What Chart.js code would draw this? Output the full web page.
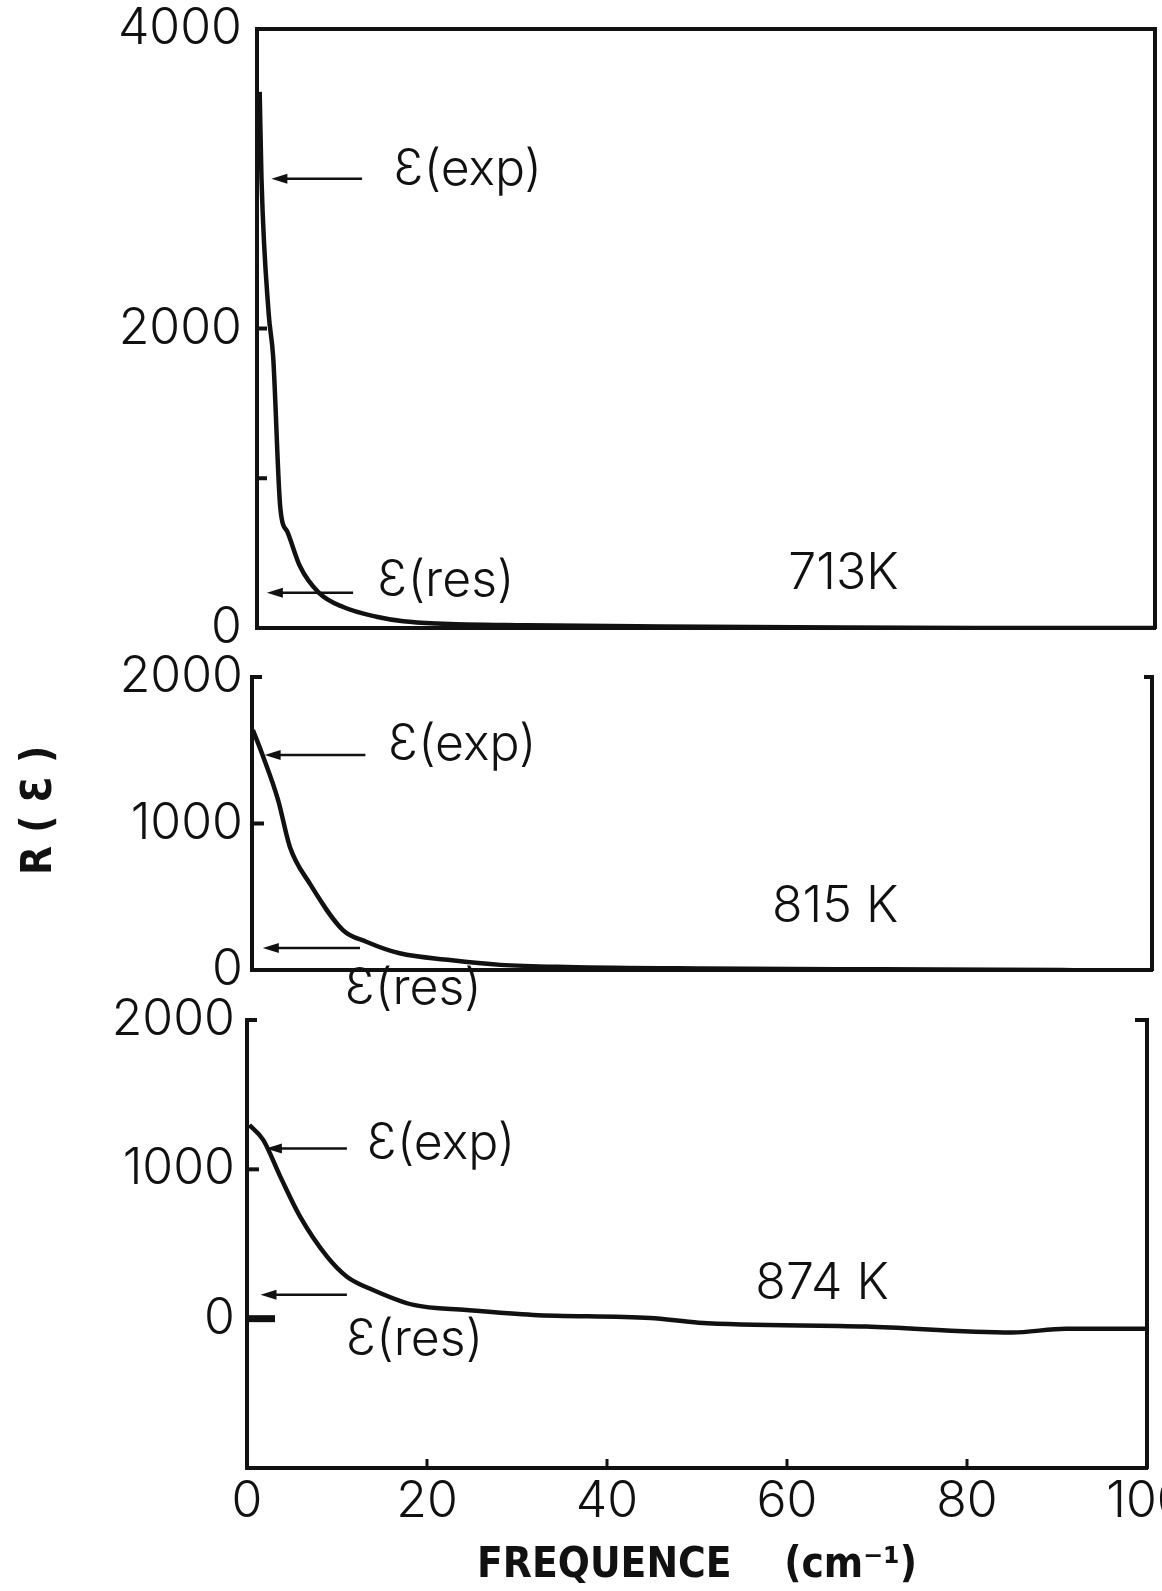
<!DOCTYPE html>
<html>
<head>
<meta charset="utf-8">
<title>R(eps) vs frequence</title>
<script src="https://cdn.jsdelivr.net/npm/chart.js@4.4.1/dist/chart.umd.min.js"></script>
<style>
  html, body { margin: 0; padding: 0; background: #fff; }
  #page { position: relative; width: 1162px; height: 1591px; overflow: hidden; }
  #page canvas { position: absolute; left: 0; top: 0; }
</style>
</head>
<body>
<div id="page">
  <canvas id="c713" width="1162" height="1591"></canvas>
  <canvas id="c815" width="1162" height="1591"></canvas>
  <canvas id="c874" width="1162" height="1591"></canvas>
</div>
<script>
// values: frequence (cm-1) and R(eps)
const freq713 = [0.3, 0.5, 1.3, 1.8, 2.6, 3.4, 4.8, 6.9, 9.6, 13.3, 16.3, 20, 30, 45, 60, 80, 100];
const eps713  = [3580, 3000, 2100, 1810, 800, 640, 410, 235, 140, 75, 45, 30, 18, 10, 5, 0, 0];

const freq815 = [0.1, 1.1, 2.9, 4.2, 6.4, 10.1, 12.7, 16.4, 22, 27.6, 35, 50, 70, 90, 100];
const eps815  = [1638, 1479, 1160, 842, 592, 273, 193, 114, 68, 35, 20, 10, 5, 0, -15];

const freq874 = [0.26, 1.8, 3.7, 5.9, 8.9, 11.1, 14.0, 18.5, 24.4, 31.8, 44.8, 50.2, 68.8, 85, 91, 100];
const eps874  = [1297, 1197, 951, 683, 415, 281, 192, 92, 58, 25, 5, -27, -53, -93, -67, -67];

const xTickValues = [0, 20, 40, 60, 80, 100];
const yTicks713 = [0, 2000, 4000];
const yTicks815 = [0, 1000, 2000];
const yTicks874 = [0, 1000, 2000];

const INK = '#111';
const THIN = 'Inter, "DejaVu Sans", sans-serif';
const BOLD = '"DejaVu Sans Condensed", "DejaVu Sans", sans-serif';

const toPoints = (xs, ys) => xs.map((x, i) => ({ x, y: ys[i] }));

// inward ticks, arrows and the little notes inside each panel
const inkPlugin = {
  id: 'ink',
  afterDraw(chart, args, o) {
    const { ctx, chartArea: a } = chart;
    const x = chart.scales.x, y = chart.scales.y;
    const seg = (x1, y1, x2, y2, w) => {
      ctx.lineWidth = w;
      ctx.beginPath(); ctx.moveTo(x1, y1); ctx.lineTo(x2, y2); ctx.stroke();
    };
    ctx.save();
    ctx.strokeStyle = INK;
    ctx.fillStyle = INK;
    (o.leftTicks || []).forEach(t => {
      const p = y.getPixelForValue(t.v);
      seg(a.left, p, a.left + t.len, p, t.w || 4);
    });
    (o.rightTicks || []).forEach(t => {
      const p = y.getPixelForValue(t.v);
      seg(a.right, p, a.right - t.len, p, t.w || 4);
    });
    (o.bottomTicks || []).forEach(v => {
      const p = x.getPixelForValue(v);
      seg(p, a.bottom, p, a.bottom - 9, 3);
    });
    (o.arrows || []).forEach(r => {
      const py = y.getPixelForValue(r.y);
      const x1 = x.getPixelForValue(r.from), x2 = x.getPixelForValue(r.to);
      seg(x1, py, x2 + 10, py, 2.5);
      ctx.beginPath();
      ctx.moveTo(x2, py);
      ctx.lineTo(x2 + 16, py - 5);
      ctx.lineTo(x2 + 16, py + 5);
      ctx.closePath();
      ctx.fill();
    });
    ctx.font = '300 50px ' + THIN;
    ctx.textBaseline = 'middle';
    (o.notes || []).forEach(n => {
      ctx.textAlign = n.align || 'left';
      ctx.fillText(n.text, x.getPixelForValue(n.x), y.getPixelForValue(n.y));
    });
    ctx.restore();
  }
};

function panel(id, p) {
  const hidden = { display: false, drawTicks: false };
  const border = { display: true, color: INK, width: 4 };
  const scales = {
    x: {
      type: 'linear', min: 0, max: 100,
      grid: hidden, border,
      ticks: {
        display: !!p.xTitle, color: INK, padding: 4, maxRotation: 0,
        font: { family: THIN, size: 50, weight: 300 },
        callback: v => String(v)
      },
      afterBuildTicks: s => { s.ticks = xTickValues.map(v => ({ value: v })); },
      title: p.xTitle ? {
        display: true, text: p.xTitle, color: INK, padding: { top: 0, bottom: 0 },
        font: { family: BOLD, size: 42, weight: 'bold' }
      } : { display: false },
      afterFit: s => { s.height = p.xHeight; s.paddingLeft = 0; s.paddingRight = 0; }
    },
    y: {
      type: 'linear', min: p.yMin, max: p.yMax,
      grid: hidden, border,
      ticks: {
        color: INK, padding: p.yPad,
        font: { family: THIN, size: 50, weight: 300 },
        callback: v => String(v)
      },
      afterBuildTicks: s => { s.ticks = p.yTicks.map(v => ({ value: v })); },
      title: p.yTitle ? {
        display: true, text: p.yTitle, color: INK, padding: { top: 0, bottom: 0 },
        font: { family: BOLD, size: 42, weight: 'bold' }
      } : { display: false },
      afterFit: s => { s.width = p.yWidth; s.paddingTop = 0; s.paddingBottom = 0; }
    },
    y2: {
      type: 'linear', position: 'right', min: p.yMin, max: p.yMax,
      grid: hidden, border, ticks: { display: false },
      afterFit: s => { s.width = 0; s.paddingTop = 0; s.paddingBottom = 0; }
    }
  };
  if (p.boxTop) {
    scales.x2 = {
      type: 'linear', position: 'top', min: 0, max: 100,
      grid: hidden, border, ticks: { display: false },
      afterFit: s => { s.height = 0; s.paddingLeft = 0; s.paddingRight = 0; }
    };
  }

  return new Chart(document.getElementById(id), {
    type: 'line',
    data: {
      datasets: [{
        data: toPoints(p.freq, p.eps),
        borderColor: INK,
        borderWidth: 4.5,
        pointRadius: 0,
        fill: false,
        cubicInterpolationMode: 'monotone'
      }]
    },
    options: {
      responsive: false,
      animation: false,
      devicePixelRatio: 1,
      layout: {
        padding: {
          left: p.area.left - p.yWidth,
          top: p.area.top,
          right: 1162 - p.area.right,
          bottom: 1591 - p.area.bottom - p.xHeight
        }
      },
      plugins: { legend: { display: false }, tooltip: { enabled: false }, ink: p.marks },
      scales
    },
    plugins: [inkPlugin]
  });
}

panel('c713', {
  freq: freq713, eps: eps713, yMin: 0, yMax: 4000, yTicks: yTicks713, yPad: 15,
  area: { left: 257, top: 29, right: 1155, bottom: 628 }, yWidth: 150, xHeight: 0, boxTop: true,
  marks: {
    leftTicks: [{ v: 2000, len: 10 }, { v: 1000, len: 10 }],
    arrows: [{ y: 3000, from: 11.7, to: 1.6 }, { y: 236, from: 10.7, to: 1.1 }],
    notes: [
      { text: 'Ɛ(exp)', x: 15.2, y: 3058 },
      { text: 'Ɛ(res)', x: 13.4, y: 314 },
      { text: '713K', x: 65.3, y: 360, align: 'center' }
    ]
  }
});

panel('c815', {
  freq: freq815, eps: eps815, yMin: 0, yMax: 2000, yTicks: yTicks815, yPad: 9,
  area: { left: 252, top: 677, right: 1152, bottom: 970 }, yWidth: 237, xHeight: 0,
  yTitle: '  R ( Ɛ )',
  marks: {
    leftTicks: [{ v: 2000, len: 10 }, { v: 1000, len: 12 }],
    rightTicks: [{ v: 2000, len: 8 }],
    arrows: [{ y: 1468, from: 12.6, to: 1.4 }, { y: 150, from: 12, to: 1.2 }],
    notes: [
      { text: 'Ɛ(exp)', x: 15.1, y: 1536 },
      { text: 'Ɛ(res)', x: 10.3, y: -130 },
      { text: '815 K', x: 64.8, y: 430, align: 'center' }
    ]
  }
});

panel('c874', {
  freq: freq874, eps: eps874, yMin: -1000, yMax: 2000, yTicks: yTicks874, yPad: 12,
  area: { left: 247, top: 1020, right: 1147, bottom: 1468 }, yWidth: 150, xHeight: 123,
  xTitle: 'FREQUENCE    (cm⁻¹)',
  marks: {
    leftTicks: [{ v: 2000, len: 10 }, { v: 1000, len: 12 }, { v: 0, len: 28, w: 7 }],
    rightTicks: [{ v: 2000, len: 12 }],
    bottomTicks: [20, 40, 60, 80],
    arrows: [{ y: 1140, from: 11.1, to: 2.1 }, { y: 160, from: 11.1, to: 1.5 }],
    notes: [
      { text: 'Ɛ(exp)', x: 13.3, y: 1173 },
      { text: 'Ɛ(res)', x: 11, y: -140 },
      { text: '874 K', x: 63.9, y: 233, align: 'center' }
    ]
  }
});
</script>
</body>
</html>
